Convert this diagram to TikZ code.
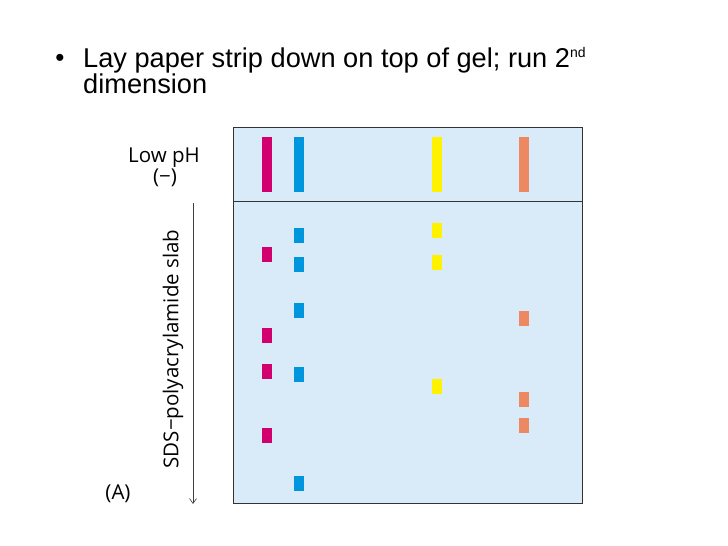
\documentclass[tikz,border=0pt]{standalone}
\usepackage{fontspec}
\setmainfont{Liberation Sans}
\newfontfamily\labelfont[Ligatures=TeX]{Open Sans}
\usepackage{tikz}
\usetikzlibrary{positioning, arrows.meta}
\definecolor{gelblue}{HTML}{D9EAF9}
\definecolor{pmag}{HTML}{D2006F}
\definecolor{pblue}{HTML}{0096DE}
\definecolor{pyel}{HTML}{FFF200}
\definecolor{porg}{HTML}{EC8962}
\tikzstyle{band}  = [rectangle, inner sep=0pt, minimum width=10pt, minimum height=55pt]
\tikzstyle{spot}  = [rectangle, inner sep=0pt, minimum width=10pt, minimum height=15pt]
\tikzstyle{lbl}   = [font=\labelfont\fontsize{20.5}{24}\selectfont, inner sep=0pt]
\tikzstyle{arrow} = [semithick, -{Straight Barb[length=5pt, width=7pt]}, draw=black!75]

\begin{document}
\begin{tikzpicture}[x=1pt, y=-1pt]
      \useasboundingbox (0,0) rectangle (728,546);

      % heading
      \node (dot)   [inner sep=0pt] at (60,60) {\fontsize{26}{26}\selectfont\textbullet};
      \node (head)  [anchor=base west, inner sep=0pt, font=\fontsize{27.2}{26}\selectfont]
            at (83,67) {Lay paper strip down on top of gel; run 2\textsuperscript{\fontsize{14}{14}\selectfont nd}};
      \node (head2) [anchor=base west, inner sep=0pt, font=\fontsize{27.2}{26}\selectfont]
            at (83,93) {dimension};

      % gel
      \node (strip) [draw=black!80, fill=gelblue, thick, inner sep=0pt, minimum width=349pt, minimum height=74pt, anchor=north west] at (233,127) {};
      \node (slab)  [draw=black!80, fill=gelblue, thick, inner sep=0pt, minimum width=349pt, minimum height=302pt, anchor=north west] at (233,201) {};

      % paper strip bands
      \node (bA) [band, fill=pmag]  at (267,164.5) {};
      \node (bB) [band, fill=pblue] at (299,164.5) {};
      \node (bC) [band, fill=pyel]  at (437,164.5) {};
      \node (bD) [band, fill=porg]  at (524,164.5) {};

      % second dimension spots
      \foreach \y [count=\i] in {254.5, 335.5, 371.5, 435.5}
        \node (sA\i) [spot, fill=pmag] at (267,\y) {};
      \foreach \y [count=\i] in {235.5, 264.5, 310.5, 374.5, 483.5}
        \node (sB\i) [spot, fill=pblue] at (299,\y) {};
      \foreach \y [count=\i] in {230.5, 262, 386}
        \node (sC\i) [spot, fill=pyel] at (437,\y) {};
      \foreach \y [count=\i] in {318, 399, 425}
        \node (sD\i) [spot, fill=porg] at (524,\y) {};

      % labels
      \node (lowph) [lbl, anchor=base] at (164,162) {Low pH};
      \node (minus) [lbl] at (165,178) {(−)};
      \node (sds)   [lbl, rotate=90] at (173,349) {SDS−polyacrylamide slab};
      \node (panel) [lbl] at (118,494) {(A)};

      \coordinate (top) at (193,203);
      \coordinate (bot) at (193,504);
      \draw [arrow] (top) -- (bot);

    \end{tikzpicture}
\end{document}
